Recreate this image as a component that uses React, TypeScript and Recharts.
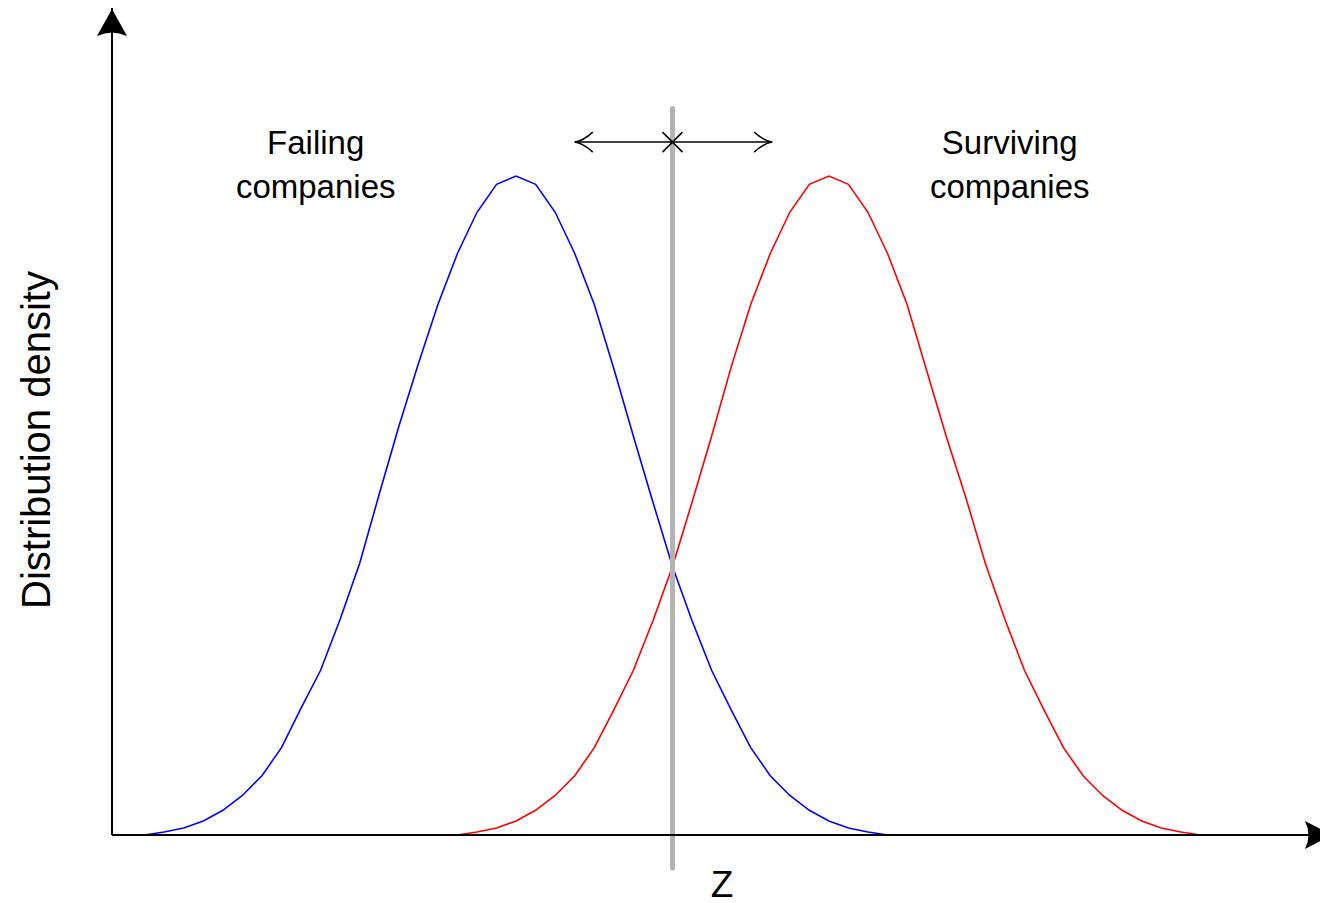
import { Line, LineChart, ReferenceDot, ReferenceLine, XAxis, YAxis } from "recharts";

// score positions, one sample every 0.2
const zGrid = [
    -5.4, -5.2, -5.0, -4.8, -4.6, -4.4, -4.2, -4.0, -3.8, -3.6, -3.4,
    -3.2, -3.0, -2.8, -2.6, -2.4, -2.2, -2.0, -1.8, -1.6, -1.4, -1.2,
    -1.0, -0.8, -0.6, -0.4, -0.2, 0.0, 0.2, 0.4, 0.6, 0.8, 1.0,
    1.2, 1.4, 1.6, 1.8, 2.0, 2.2, 2.4, 2.6, 2.8, 3.0, 3.2,
    3.4, 3.6, 3.8, 4.0, 4.2, 4.4, 4.6, 4.8, 5.0, 5.2, 5.4,
];

// failing companies, z from -5.4 to 2.2
const failingDensity = [
    0, 0.0018, 0.0042, 0.0085, 0.015, 0.024, 0.036, 0.053, 0.077, 0.100,
    0.131, 0.165, 0.207, 0.248, 0.286, 0.322, 0.353, 0.378, 0.395, 0.400,
    0.395, 0.378, 0.353, 0.322, 0.283, 0.242, 0.202, 0.163, 0.130, 0.100,
    0.076, 0.053, 0.036, 0.024, 0.015, 0.0085, 0.0042, 0.0018, 0,
];

// surviving companies, z from -2.2 to 5.4
const survivingDensity = [
    0, 0.0018, 0.0042, 0.0085, 0.015, 0.024, 0.036, 0.053, 0.076, 0.100,
    0.130, 0.163, 0.202, 0.242, 0.284, 0.322, 0.353, 0.378, 0.395, 0.400,
    0.395, 0.378, 0.353, 0.322, 0.282, 0.242, 0.205, 0.165, 0.131, 0.100,
    0.076, 0.053, 0.036, 0.024, 0.015, 0.0085, 0.0042, 0.0018, 0,
];

const failingStart = 0;
const survivingStart = 16;

const groupLabels = [
    { z: -3.65, lines: ["Failing", "companies"] },
    { z: 3.45, lines: ["Surviving", "companies"] },
];

const xDomain: [number, number] = [-5.734, 6.624];
const yDomain: [number, number] = [0, 0.502];
const cutoffZ = 0;
const shiftRange = [-1.0, 1.02];
const shiftLevel = 0.4206;
const labelLevel = 0.4134;

const font = "'Liberation Sans', Arial, Helvetica, sans-serif";

const chartData = zGrid.map((z, i) => ({
    z,
    failing: failingDensity[i - failingStart],
    surviving: survivingDensity[i - survivingStart],
}));

function ArrowUp(props: any) {
    const { cx, cy } = props;
    const t = cy + 1;
    return <path d={`M${cx},${t} L${cx - 15},${t + 27} Q${cx},${t + 20} ${cx + 15},${t + 27} Z`} fill="#000" />;
}

function ArrowRight(props: any) {
    const { cx, cy } = props;
    const t = cx + 12;
    return <path d={`M${t},${cy} L${t - 27},${cy - 14} Q${t - 20},${cy} ${t - 27},${cy + 14} Z`} fill="#000" />;
}

function OpenHead(props: any) {
    const { cx, cy, dir } = props;
    const s = dir;
    return (
        <path
            d={`M${cx + s * 18},${cy - 10} Q${cx + s * 8},${cy - 1} ${cx},${cy} Q${cx + s * 8},${cy + 1} ${cx + s * 18},${cy + 10}`}
            fill="none"
            stroke="#000"
            strokeWidth={1.5}
        />
    );
}

function Cross(props: any) {
    const { cx, cy } = props;
    return (
        <path
            d={`M${cx - 10},${cy - 10} L${cx + 10},${cy + 10} M${cx - 10},${cy + 10} L${cx + 10},${cy - 10}`}
            stroke="#000"
            strokeWidth={1.5}
        />
    );
}

function GroupText(props: any) {
    const { cx, cy, lines } = props;
    return (
        <text x={cx} y={cy} textAnchor="middle" fontFamily={font} fontSize={33} fill="#000">
            {lines.map((l: string, i: number) => (
                <tspan key={i} x={cx} dy={i == 0 ? 0 : 44}>{l}</tspan>
            ))}
        </text>
    );
}

function YTitle(props: any) {
    const vb = props.viewBox ?? { x: 0, y: 8 };
    const x = vb.x + 50;
    const y = vb.y + 432;
    return (
        <text x={x} y={y} transform={`rotate(-90, ${x}, ${y})`} textAnchor="middle" fontFamily={font} fontSize={40} fill="#000">
            Distribution density
        </text>
    );
}

function XTitle(props: any) {
    const vb = props.viewBox ?? { x: 112, y: 835 };
    return (
        <text x={vb.x + 610} y={vb.y + 62} textAnchor="middle" fontFamily={font} fontSize={37} fill="#000">
            Z
        </text>
    );
}

export default function App() {
    return (
        <div style={{ position: "absolute", left: 0, top: 0, background: "#fff" }}>
            <LineChart width={1320} height={903} data={chartData} margin={{ top: 8, right: 0, bottom: 0, left: 0 }}>
                <XAxis
                    type="number"
                    dataKey="z"
                    domain={xDomain}
                    allowDataOverflow
                    height={68}
                    tick={false}
                    tickLine={false}
                    axisLine={{ stroke: "#000", strokeWidth: 2 }}
                    label={<XTitle />}
                />
                <YAxis
                    type="number"
                    domain={yDomain}
                    allowDataOverflow
                    width={112}
                    tick={false}
                    tickLine={false}
                    axisLine={{ stroke: "#000", strokeWidth: 2 }}
                    label={<YTitle />}
                />
                <Line type="linear" dataKey="failing" stroke="#0000ff" strokeWidth={1.6} dot={false} activeDot={false} isAnimationActive={false} />
                <Line type="linear" dataKey="surviving" stroke="#ff0000" strokeWidth={1.6} dot={false} activeDot={false} isAnimationActive={false} />
                <ReferenceLine
                    segment={[{ x: cutoffZ, y: -0.02 }, { x: cutoffZ, y: 0.441 }]}
                    stroke="#b3b3b3"
                    strokeWidth={5}
                    strokeLinecap="round"
                    ifOverflow="visible"
                />
                <ReferenceLine
                    segment={[{ x: shiftRange[0], y: shiftLevel }, { x: shiftRange[1], y: shiftLevel }]}
                    stroke="#000"
                    strokeWidth={1.5}
                    ifOverflow="visible"
                />
                <ReferenceDot x={shiftRange[0]} y={shiftLevel} ifOverflow="visible" shape={(p: any) => <OpenHead {...p} dir={1} />} />
                <ReferenceDot x={shiftRange[1]} y={shiftLevel} ifOverflow="visible" shape={(p: any) => <OpenHead {...p} dir={-1} />} />
                <ReferenceDot x={cutoffZ} y={shiftLevel} ifOverflow="visible" shape={(p: any) => <Cross {...p} />} />
                <ReferenceDot x={xDomain[0]} y={yDomain[1]} ifOverflow="visible" shape={(p: any) => <ArrowUp {...p} />} />
                <ReferenceDot x={xDomain[1]} y={yDomain[0]} ifOverflow="visible" shape={(p: any) => <ArrowRight {...p} />} />
                {groupLabels.map((g, i) => (
                    <ReferenceDot
                        key={i}
                        x={g.z}
                        y={labelLevel}
                        ifOverflow="visible"
                        shape={(p: any) => <GroupText {...p} lines={g.lines} />}
                    />
                ))}
            </LineChart>
        </div>
    );
}
